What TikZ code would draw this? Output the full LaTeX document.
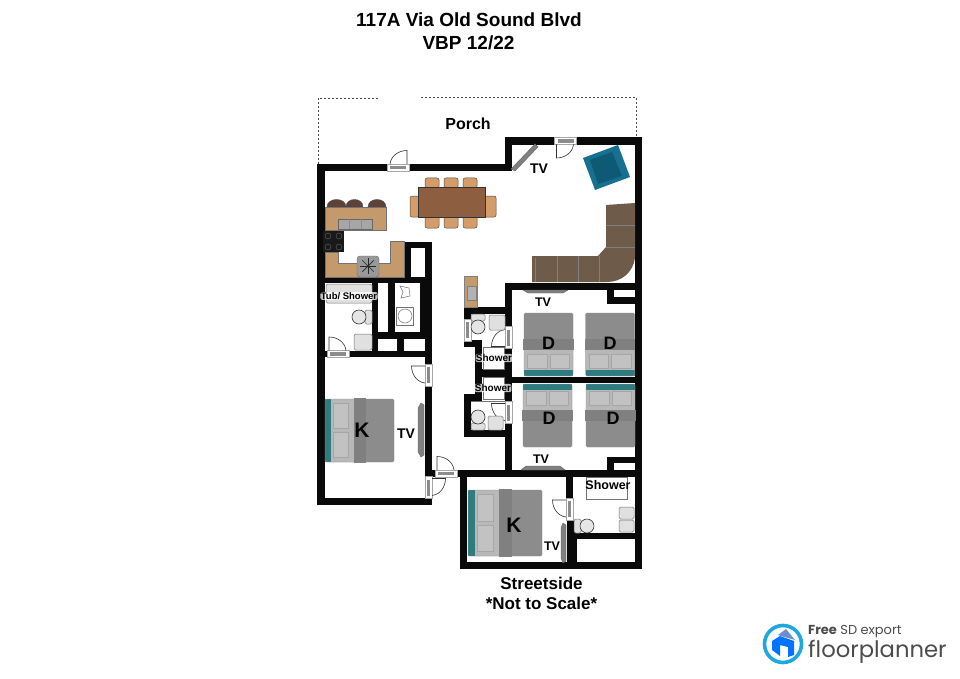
\documentclass[tikz,border=0pt]{standalone}
\usepackage{fontspec}
\setmainfont{Liberation Sans}
\newfontfamily\logofont{Poppins}
\definecolor{wallcol}{HTML}{0A0A0A}
\definecolor{woodcol}{HTML}{C49A6C}
\definecolor{tablecol}{HTML}{8D5F40}
\definecolor{chaircol}{HTML}{D39C68}
\definecolor{stoolcol}{HTML}{5E4236}
\definecolor{sofacol}{HTML}{6E5B4A}
\definecolor{tealcol}{HTML}{2E7C80}
\definecolor{armcol}{HTML}{17708F}
\definecolor{seatcol}{HTML}{0E5A74}
\definecolor{bedcol}{HTML}{8C8C8C}
\definecolor{logocol}{HTML}{1FA8E0}
\tikzset{
	wall/.style={fill=wallcol},
	label/.style={font=\bfseries\fontsize{14}{16}\selectfont,text=black},
	smalllabel/.style={font=\bfseries\fontsize{12.5}{14}\selectfont,text=black},
	bathlabel/.style={font=\bfseries\fontsize{10}{12}\selectfont,fill=white,fill opacity=0.75,text opacity=1,inner sep=0.4pt,rounded corners=2pt},
	bedlabel/.style={font=\bfseries\fontsize{18}{20}\selectfont},
	kinglabel/.style={font=\bfseries\fontsize{21}{23}\selectfont},
	thinline/.style={draw=black!55,line width=0.5pt},
	fixture/.style={draw=black!55,fill=black!12,line width=0.5pt,rounded corners=1.5pt},
	chairsym/.style={draw=black!70,fill=chaircol,line width=0.5pt,rounded corners=2pt},
	tvsym/.style={draw=black!60,fill=black!50,line width=0.4pt},
}
\newcommand{\doorgap}[3]{
	\begin{scope}[shift={(#1,#2)},rotate=#3]
		\fill[white] (-11,-3.6) rectangle (11,3.6);
		\draw[black!35,line width=0.4pt] (-11,-3.6) rectangle (11,3.6);
		\fill[black!45] (-8,-1.6) rectangle (8,1.6);
	\end{scope}
}
\newcommand{\doorsym}[4]{
	\doorgap{#1}{#2}{#3}
	\begin{scope}[shift={(#1,#2)},rotate=#3,xscale=#4]
		\draw[black!80,line width=0.6pt] (9,-3.5) -- (9,-17) .. controls (1,-17) and (-7,-12) .. (-8,-3.5);
	\end{scope}
}
\newcommand{\bedsym}[5]{
	\begin{scope}[shift={(#1,#2)},rotate=#5,xscale=#3/100,yscale=#4/100]
		\fill[bedcol,rounded corners=1.5pt] (-50,-50) rectangle (50,50);
		\fill[black!28] (-42,-50) rectangle (-8,50);
		\fill[black!50] (-8,-52) rectangle (9,52);
		\fill[tealcol] (-50,-50) rectangle (-41,50);
		\foreach \ya in {-43,3}
			\draw[black!35,fill=black!24,line width=0.4pt] (-38,\ya) rectangle (-16,\ya+40);
		\draw[black!45,line width=0.4pt,rounded corners=1.5pt] (-50,-50) rectangle (50,50);
	\end{scope}
}
\newcommand{\toiletsym}[3]{
	\begin{scope}[shift={(#1,#2)},rotate=#3]
		\draw[fixture] (6,-7) rectangle (13,7);
		\draw[black!80,fill=black!10,line width=0.6pt] (0,0) circle (7);
	\end{scope}
}
\begin{document}
\begin{tikzpicture}[x=1pt,y=-1pt]
	\useasboundingbox (0,0) rectangle (960,679);
	\fill[white] (0,0) rectangle (960,679);
	% porch outline
	\draw[black!70,line width=0.6pt,dash pattern=on 2pt off 2pt] (318,164) -- (318,98) -- (378,98);
	\draw[black!70,line width=0.6pt,dash pattern=on 2pt off 2pt] (421,97) -- (636,97) -- (636,137);
	% walls
	\foreach \xa/\ya/\xb/\yb in {317/164/505/171,505/137/512/171,505/137/642/145,635/137/642/569,
		317/164/325/505,317/498/432/505,425/242/432/505,404/242/432/248,404/242/411/283,
		317/277/432/283,372/283/378/351,388/283/395/332,420/283/425/332,372/332/425/339,
		397/339/404/351,317/351/432/357,505/283/642/290,505/283/512/470,464/307/512/314,
		464/307/471/347,464/340/482/347,475/340/482/402,475/369/505/377,505/377/642/383,
		464/394/482/401,464/394/471/437,464/430/512/437,425/470/642/477,460/470/467/569,
		460/562/642/569,566/477/573/520,567/520/577/562,567/533/642/539,607/290/614/304,
		607/297/635/304,607/457/635/463,607/457/614/470}
		\fill[wall] (\xa,\ya) rectangle (\xb,\yb);
	% doors
	\doorsym{398}{167.5}{0}{1}
	\doorsym{565.5}{141}{180}{1}
	\doorsym{338}{354}{0}{-1}
	\doorsym{428.5}{375}{90}{1}
	\doorsym{446}{473.5}{0}{-1}
	\doorsym{428.5}{487.5}{-90}{-1}
	\doorsym{508.5}{337.5}{90}{-1}
	\doorsym{508.5}{412.5}{90}{1}
	\doorsym{569.5}{509}{90}{1}
	\doorgap{467.5}{330}{90}
	% kitchen
	\foreach \xa/\xb in {327/346,346/363,368/386}
		\draw[black!70,fill=stoolcol,line width=0.4pt] (\xa,207) .. controls (\xa,197) and (\xb,197) .. (\xb,207) -- cycle;
	\draw[black!55,fill=woodcol,line width=0.5pt] (325,207) rectangle (386,230);
	\draw[black!60,fill=black!35,line width=0.5pt] (338,219) rectangle (372,229);
	\draw[black!45,line width=0.4pt] (349,219) -- (349,229) (361,219) -- (361,229);
	\draw[black!55,fill=woodcol,line width=0.5pt] (325,252) -- (338,252) -- (338,263) -- (390,263) -- (390,241) -- (404,241) -- (404,277) -- (325,277) -- cycle;
	\fill[black!90] (323,231) rectangle (344,252);
	\foreach \xa in {328,339} \foreach \ya in {236,247}
		\draw[black!60,line width=0.4pt] (\xa,\ya) circle (3);
	\draw[black!60,fill=black!40,rounded corners=3pt] (357,256) rectangle (379,277);
	\foreach \ang in {0,45,...,135}
		\draw[black!85,line width=0.7pt,rotate around={\ang:(368,266)}] (360,266) -- (376,266);
	\draw[black!50,fill=woodcol,line width=0.4pt] (464,276) rectangle (477,307);
	\draw[black!50,fill=black!30,line width=0.4pt] (467,286) rectangle (476,300);
	% dining table
	\foreach \xa in {425,444,463} {
		\draw[chairsym] (\xa,178) rectangle (\xa+14,188);
		\draw[chairsym] (\xa,216) rectangle (\xa+14,228);
	}
	\draw[chairsym] (410,196) rectangle (419,217);
	\draw[chairsym] (484,196) rectangle (496,217);
	\draw[black!80,fill=tablecol,line width=0.5pt] (418,187) rectangle (485,217);
	% lounge
	\draw[tvsym] (511,169) -- (535,144) -- (538,147) -- (515,171) -- cycle;
	\fill[armcol] (583,158) -- (618,145) -- (630,177) -- (595,190) -- cycle;
	\fill[seatcol] (590,160) -- (612,152) -- (622,176) -- (598,184) -- cycle;
	\fill[sofacol] (532,256) -- (598,256) -- (606,247) -- (606,205) -- (635,203) -- (635,258)
		.. controls (633,272) and (622,282) .. (607,282) -- (532,282) -- cycle;
	\draw[black!50,line width=0.4pt] (557,256) -- (557,282) (578,256) -- (578,282) (599,256) -- (599,282)
		(606,225) -- (635,225) (606,247) -- (635,247) (535,258) -- (535,282);
	% bathrooms
	\draw[fixture] (326,284) rectangle (372,303);
	\toiletsym{359}{317}{0}
	\draw[fixture] (354,334) rectangle (372,350);
	\draw[thinline] (396,307) rectangle (413,325);
	\draw[thinline] (405,316) circle (7);
	\draw[thinline] (400,286) -- (409,288) -- (410,296) -- (401,298) -- (403,292) -- cycle;
	\toiletsym{478}{327}{90}
	\draw[fixture] (489,315) rectangle (505,330);
	\draw[thinline] (483,347) rectangle (504,369);
	\draw[thinline] (483,377) rectangle (504,399);
	\toiletsym{478}{417}{-90}
	\draw[fixture] (488,416) rectangle (503,430);
	\draw[thinline] (471,401) -- (505,401);
	\draw[thinline] (586,477) rectangle (627,499);
	\toiletsym{587}{526}{180}
	\draw[fixture] (619,507) rectangle (634,519);
	\draw[fixture] (619,520) rectangle (634,532);
	% beds
	\bedsym{548.5}{344.5}{63}{49}{90}
	\bedsym{610}{344.5}{63}{49}{90}
	\bedsym{547.5}{415.5}{63}{49}{-90}
	\bedsym{610.5}{415.5}{63}{49}{-90}
	\bedsym{359.5}{430.5}{69}{63}{0}
	\bedsym{505}{523}{74}{66}{0}
	% tvs
	\draw[tvsym] (523,290) -- (568,290) -- (563,293) -- (528,293) -- cycle;
	\draw[tvsym] (521,470) -- (565,470) -- (560,466) -- (526,466) -- cycle;
	\draw[tvsym] (418,408) -- (421,403) -- (424,405) -- (424,455) -- (421,457) -- (418,452) -- cycle;
	\draw[tvsym] (561,528) -- (563,523) -- (566,525) -- (566,561) -- (563,563) -- (561,558) -- cycle;
	% labels
	\node[font=\bfseries\fontsize{19}{21}\selectfont] (title) at (469,20) {117A Via Old Sound Blvd};
	\node[font=\bfseries\fontsize{19}{21}\selectfont] (code) at (468.5,43) {VBP 12/22};
	\node[font=\bfseries\fontsize{16}{18}\selectfont] (porch) at (468,124) {Porch};
	\node[label] (tvA) at (539,169) {TV};
	\node[smalllabel] (tvB) at (543,302) {TV};
	\node[label] (tvC) at (406,434) {TV};
	\node[smalllabel] (tvD) at (541,459) {TV};
	\node[smalllabel] (tvE) at (552,546) {TV};
	\node[bathlabel,font=\bfseries\fontsize{9.5}{11}\selectfont] (tub) at (349,296) {Tub/ Shower};
	\node[bathlabel] (showerA) at (494,358) {Shower};
	\node[bathlabel] (showerB) at (493,388) {Shower};
	\node[font=\bfseries\fontsize{12.5}{14}\selectfont] (showerC) at (608,485) {Shower};
	\node[bedlabel] (letA) at (548.5,343) {D};
	\node[bedlabel] (letB) at (610,343) {D};
	\node[bedlabel] (letC) at (549,418) {D};
	\node[bedlabel] (letD) at (613,418) {D};
	\node[kinglabel] (letE) at (362,430) {K};
	\node[kinglabel] (letF) at (514,525) {K};
	\node[font=\bfseries\fontsize{17}{19}\selectfont] (street) at (541.5,583) {Streetside};
	\node[font=\bfseries\fontsize{17}{19}\selectfont] (scale) at (541.5,603) {*Not to Scale*};
	% logo
	\draw[logocol,line width=3.6pt,fill=white] (783,644) circle (18.5);
	\fill[blue!55!cyan] (772,650) -- (772,641) -- (780,636) -- (794,641) -- (794,655) -- (788,657) -- (788,647) -- (780,645) -- (780,656) -- cycle;
	\fill[cyan!40!blue!60] (778,635) -- (786,629) -- (795,640) -- (781,636) -- cycle;
	\node[anchor=west,inner sep=0pt,text=black!70,font=\logofont\fontsize{13}{15}\selectfont] (logoA) at (808,632) {\textbf{Free} SD export};
	\node[anchor=west,inner sep=0pt,text=black!70,font=\logofont\fontsize{22.7}{25}\selectfont] (logoB) at (808,652) {floorplanner};
\end{tikzpicture}
\end{document}
